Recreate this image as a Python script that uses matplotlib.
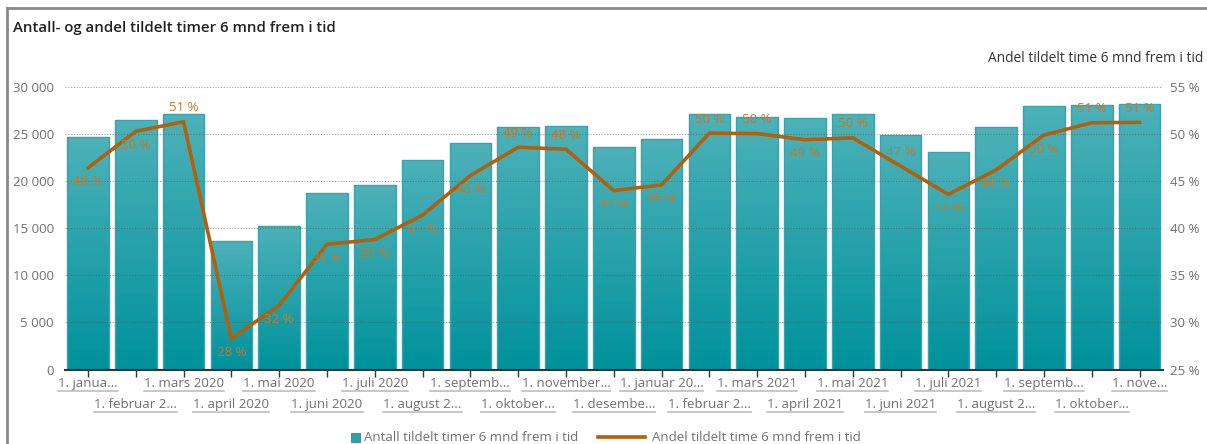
import numpy as np
import matplotlib.pyplot as plt
from matplotlib.colors import to_rgb
from matplotlib.lines import Line2D
from matplotlib.patches import Rectangle
from matplotlib.ticker import FuncFormatter

plt.rcParams['font.family'] = ['Open Sans', 'DejaVu Sans']

# tick labels as shown (truncated in the original)
month_labels = [
    '1. janua...', '1. februar 2...', '1. mars 2020', '1. april 2020', '1. mai 2020',
    '1. juni 2020', '1. juli 2020', '1. august 2...', '1. septemb...', '1. oktober...',
    '1. november...', '1. desembe...', '1. januar 20...', '1. februar 2...', '1. mars 2021',
    '1. april 2021', '1. mai 2021', '1. juni 2021', '1. juli 2021', '1. august 2...',
    '1. septemb...', '1. oktober...', '1. nove...',
]
antall = [24700, 26500, 27100, 13600, 15200, 18700, 19600, 22200, 24100, 25700, 25900, 23600,
          24500, 27100, 26800, 26700, 27100, 24900, 23100, 25700, 28000, 28100, 28200]
andel = [46.4, 50.3, 51.3, 28.3, 31.8, 38.3, 38.8, 41.4, 45.6, 48.6, 48.4, 44.0,
         44.6, 50.1, 50.05, 49.4, 49.6, 46.6, 43.6, 46.2, 49.9, 51.2, 51.25]
# data label placement: above / below the point
label_side = ['b', 'b', 'a', 'b', 'b', 'b', 'b', 'b', 'b', 'a', 'a', 'b',
              'b', 'a', 'a', 'b', 'a', 'a', 'b', 'b', 'b', 'a', 'a']
series_names = ['Antall tildelt timer 6 mnd frem i tid', 'Andel tildelt time 6 mnd frem i tid']

teal_top = np.array(to_rgb('#4db1b9'))
teal_bot = np.array(to_rgb('#00929b'))
line_col = '#b3600c'
lbl_col = '#c27a2c'
grey = '#707070'

W, H = 1207, 444
fig = plt.figure(figsize=(W / 100, H / 100), dpi=100)
ax = fig.add_axes([65 / W, 1 - 369.5 / H, (1163 - 65) / W, (369.5 - 87) / H])
ax2 = ax.twinx()

x = np.arange(len(antall))
bw = 0.87
bars = ax.bar(x, antall, width=bw, color=teal_bot, edgecolor='#3aa2aa', linewidth=1, zorder=2)

# vertical gradient inside each bar
t = np.linspace(0, 1, 64)[:, None]
grad = teal_bot[None, :] * (1 - t) + teal_top[None, :] * t
grad = grad[:, None, :]
for b in bars:
    x0, w, h = b.get_x(), b.get_width(), b.get_height()
    im = ax.imshow(grad, extent=(x0, x0 + w, 0, h), origin='lower', aspect='auto', zorder=2.1)
    im.set_clip_path(b)
    b.set_facecolor('none')
    b.set_zorder(2.2)

ax.set_xlim(-0.48, len(antall) - 1 + 0.49)
ax.set_ylim(0, 30000)
ax.set_yticks(np.arange(0, 30001, 5000))
ax.yaxis.set_major_formatter(FuncFormatter(lambda v, p: f'{int(v):,}'.replace(',', ' ')))
ax.tick_params(axis='y', length=0, pad=8, labelsize=9.5, labelcolor=grey)
ax.set_xticks(x)
ax.set_xticklabels([])
ax.tick_params(axis='x', length=5, width=1, color='#333333', direction='out')
for s in ['top', 'right', 'left']:
    ax.spines[s].set_visible(False)
ax.spines['bottom'].set_color('#333333')
ax.spines['bottom'].set_linewidth(1.5)
ax.spines['bottom'].set_zorder(5)

# gridlines over the bars, dotted
for v in np.arange(5000, 30001, 5000):
    ax.axhline(v, color='#555555', lw=0.8, ls=(0, (1, 1.5)), alpha=0.55, zorder=3)

ax2.set_ylim(25, 55)
ax2.set_yticks(np.arange(25, 56, 5))
ax2.yaxis.set_major_formatter(FuncFormatter(lambda v, p: f'{int(v)} %'))
ax2.tick_params(axis='y', length=0, pad=5, labelsize=9.5, labelcolor=grey)
for s in ax2.spines.values():
    s.set_visible(False)
ax2.plot(x, andel, color=line_col, lw=2.6, zorder=4, solid_joinstyle='miter')
for xi, v, side in zip(x, andel, label_side):
    off = 14 if side == 'a' else -14
    ax2.annotate(f'{round(v)} %', (xi, v), xytext=(0, off), textcoords='offset pixels',
                 ha='center', va='center', fontsize=9.5, color=lbl_col, zorder=6)

# staggered x labels
xlabels = []
for i, lab in enumerate(month_labels):
    dy = -14 if i % 2 == 0 else -35
    tt = ax.annotate(lab, (i, 0), xycoords=('data', 'axes fraction'), xytext=(0, dy),
                     textcoords='offset pixels', ha='center', va='center',
                     fontsize=9.5, color=grey, annotation_clip=False)
    xlabels.append(tt)

fig.text(13 / W, 1 - 28 / H, 'Antall- og andel tildelt timer 6 mnd frem i tid',
         fontsize=10.8, color='#222222', va='center', ha='left', fontweight='semibold')
fig.text(1203 / W, 1 - 58 / H, 'Andel tildelt time 6 mnd frem i tid',
         fontsize=9.9, color='#333333', va='center', ha='right')

# outer frame
fig.add_artist(Line2D([7 / W, 1], [1 - 8 / H, 1 - 8 / H], transform=fig.transFigure,
                      color='#8a8a8a', lw=2))
fig.add_artist(Line2D([7 / W, 7 / W], [0, 1 - 8 / H], transform=fig.transFigure,
                      color='#8a8a8a', lw=2))

# legend, drawn by hand to match the original spacing
ly = 1 - 437 / H
fig.add_artist(Rectangle((351 / W, 1 - 442 / H), 9 / W, 9 / H, transform=fig.transFigure,
                         facecolor='#2aa4ad', edgecolor='#1f8f98', lw=0.6))
fig.text(364 / W, ly, series_names[0], fontsize=9.5, color=grey, va='center', ha='left')
fig.add_artist(Line2D([598 / W, 645 / W], [ly, ly], transform=fig.transFigure,
                      color=line_col, lw=2.6))
fig.text(652 / W, ly, series_names[1], fontsize=9.5, color=grey, va='center', ha='left')

# underline the x labels
fig.canvas.draw()
r = fig.canvas.get_renderer()
for tt in xlabels:
    bb = tt.get_window_extent(r)
    yb = bb.y0 - 1
    fig.add_artist(Line2D([bb.x0 / W, bb.x1 / W], [yb / H, yb / H], transform=fig.transFigure,
                          color='#bdbdbd', lw=1.2))

fig.savefig('out.png', dpi=100)
